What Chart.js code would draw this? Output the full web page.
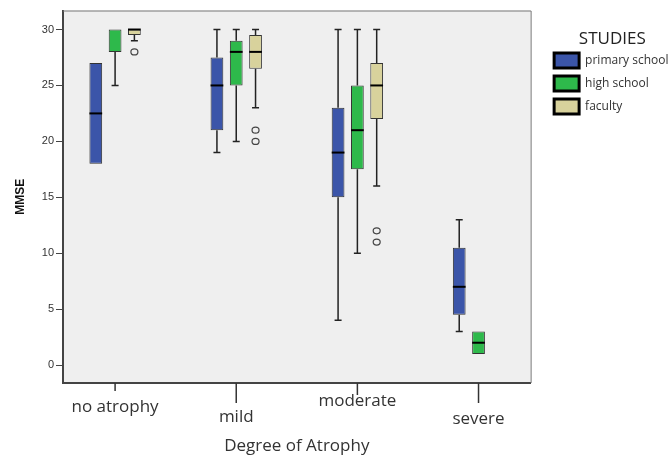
<!DOCTYPE html>
<html>
<head>
<meta charset="utf-8">
<script src="https://cdn.jsdelivr.net/npm/chart.js@4.4.0/dist/chart.umd.min.js"></script>
<style>
html, body { margin: 0; padding: 0; background: #fff; }
#wrap { width: 672px; height: 456px; }
</style>
</head>
<body>
<div id="wrap"><canvas id="box-plot"></canvas></div>
<script>
var categories = ['no atrophy', 'mild', 'moderate', 'severe'];
var studies = ['primary school', 'high school', 'faculty'];
var colors = ['#3b55a9', '#2eb94b', '#d8d29c'];

// one row per study, one column per category
var lowWhisker = [[18, 19, 4, 3], [25, 20, 10, 1], [29, 23, 16, null]];
var q1 = [[18, 21, 15, 4.5], [28, 25, 17.5, 1], [29.5, 26.5, 22, null]];
var median = [[22.5, 25, 19, 7], [30, 28, 21, 2], [30, 28, 25, null]];
var q3 = [[27, 27.5, 23, 10.5], [30, 29, 25, 3], [30, 29.5, 27, null]];
var highWhisker = [[27, 30, 30, 13], [30, 30, 30, 3], [30, 30, 30, null]];
var outliers = [[[], [], [], []], [[], [], [], []], [[28], [20, 21], [11, 12], []]];

// x label placement (the axis labels are staggered in the original)
var labelDrop = [24, 34, 18, 36];
var tickDrop = [8, 20, 12, 20];
var legendShift = 15.5;

var boxExtras = {
    id: 'boxExtras',
    afterLayout: function (chart) {
        // leave a gap between the plot frame and the legend
        var lg = chart.legend;
        if (lg) {
            lg.left += legendShift;
            lg.right += legendShift;
            lg.adjustHitBoxes();
        }
    },
    beforeDraw: function (chart) {
        var a = chart.chartArea, ctx = chart.ctx;
        ctx.save();
        ctx.fillStyle = '#efefef';
        ctx.fillRect(a.left, a.top, a.right - a.left, a.bottom - a.top);
        ctx.restore();
    },
    beforeDatasetsDraw: function (chart) {
        var ctx = chart.ctx, y = chart.scales.y;
        ctx.save();
        ctx.strokeStyle = '#222';
        ctx.lineWidth = 1.5;
        chart.data.datasets.forEach(function (ds, k) {
            chart.getDatasetMeta(k).data.forEach(function (bar, i) {
                if (q1[k][i] == null) return;
                var segs = [[q3[k][i], highWhisker[k][i]], [q1[k][i], lowWhisker[k][i]]];
                segs.forEach(function (s) {
                    if (s[0] === s[1]) return;
                    var y0 = y.getPixelForValue(s[0]), y1 = y.getPixelForValue(s[1]);
                    ctx.beginPath();
                    ctx.moveTo(bar.x, y0);
                    ctx.lineTo(bar.x, y1);
                    ctx.moveTo(bar.x - 3.5, y1);
                    ctx.lineTo(bar.x + 3.5, y1);
                    ctx.stroke();
                });
            });
        });
        ctx.restore();
    },
    afterDatasetsDraw: function (chart) {
        var ctx = chart.ctx, y = chart.scales.y;
        ctx.save();
        chart.data.datasets.forEach(function (ds, k) {
            chart.getDatasetMeta(k).data.forEach(function (bar, i) {
                if (q1[k][i] == null) return;
                // a median sitting on the box edge is hidden by the edge in the original
                if (median[k][i] !== q3[k][i] || q1[k][i] === q3[k][i] - 0.5) {
                    var my = y.getPixelForValue(median[k][i]);
                    ctx.strokeStyle = '#000';
                    ctx.lineWidth = 2;
                    ctx.beginPath();
                    ctx.moveTo(bar.x - bar.width / 2, my);
                    ctx.lineTo(bar.x + bar.width / 2, my);
                    ctx.stroke();
                }
                ctx.strokeStyle = '#444';
                ctx.lineWidth = 1.2;
                outliers[k][i].forEach(function (v) {
                    ctx.beginPath();
                    ctx.ellipse(bar.x, y.getPixelForValue(v), 3.5, 3, 0, 0, Math.PI * 2);
                    ctx.stroke();
                });
            });
        });
        ctx.restore();
    },
    afterDraw: function (chart) {
        var a = chart.chartArea, ctx = chart.ctx, x = chart.scales.x;
        ctx.save();
        ctx.strokeStyle = '#777';
        ctx.lineWidth = 1;
        ctx.beginPath();
        ctx.moveTo(a.left, a.top + 0.5);
        ctx.lineTo(a.right + 0.5, a.top + 0.5);
        ctx.lineTo(a.right + 0.5, a.bottom);
        ctx.stroke();
        ctx.strokeStyle = '#333';
        ctx.lineWidth = 1.5;
        ctx.fillStyle = '#333';
        ctx.font = '17px "Open Sans"';
        ctx.textAlign = 'center';
        ctx.textBaseline = 'middle';
        categories.forEach(function (c, i) {
            var px = x.getPixelForValue(i);
            ctx.beginPath();
            ctx.moveTo(px, a.bottom);
            ctx.lineTo(px, a.bottom + tickDrop[i]);
            ctx.stroke();
            ctx.fillText(c, px, a.bottom + labelDrop[i]);
        });
        ctx.restore();
    }
};

var ctx = document.getElementById('box-plot').getContext('2d');
var myChart = new Chart(ctx, {
    type: 'bar',
    data: {
        datasets: studies.map(function (s, k) {
            return {
                label: s,
                data: categories.map(function (c, i) {
                    return { x: i, y: q1[k][i] == null ? null : [q1[k][i], q3[k][i]] };
                }),
                backgroundColor: colors[k],
                borderColor: '#333',
                borderWidth: 1,
                borderSkipped: false,
                categoryPercentage: 0.478,
                barPercentage: 0.66
            };
        })
    },
    options: {
        responsive: true,
        maintainAspectRatio: false,
        animation: false,
        layout: {
            padding: { left: 8, right: 9, top: 10.5, bottom: 0 }
        },
        scales: {
            x: {
                type: 'linear',
                offset: false,
                min: -0.43,
                max: 3.43,
                ticks: { display: false, stepSize: 1, includeBounds: false },
                grid: { display: false, offset: false },
                border: { color: '#444', width: 2 },
                title: {
                    display: true,
                    text: 'Degree of Atrophy',
                    color: '#333',
                    font: { family: 'Open Sans', size: 17 },
                    padding: 0
                },
                afterFit: function (s) { s.height = 73; }
            },
            y: {
                min: -1.6,
                max: 31.7,
                ticks: {
                    stepSize: 5,
                    includeBounds: false,
                    color: '#333',
                    padding: 2,
                    font: { family: 'Liberation Sans', size: 11 }
                },
                grid: { drawOnChartArea: false, tickLength: 7, color: '#444' },
                border: { color: '#444', width: 2 },
                title: {
                    display: true,
                    text: 'MMSE',
                    color: '#111',
                    font: { family: 'Liberation Sans', size: 12, weight: 'bold' },
                    padding: { top: 5, bottom: 0 }
                },
                afterFit: function (s) { s.width = 55; }
            }
        },
        plugins: {
            legend: {
                position: 'right',
                align: 'start',
                title: {
                    display: true,
                    text: 'STUDIES',
                    color: '#222',
                    font: { family: 'Open Sans', size: 17 },
                    padding: { top: 20, bottom: -6 }
                },
                labels: {
                    boxWidth: 25,
                    boxHeight: 15,
                    padding: 8,
                    color: '#333',
                    font: { family: 'Open Sans', size: 12 },
                    generateLabels: function (chart) {
                        return chart.data.datasets.map(function (ds, i) {
                            return {
                                text: ds.label,
                                fillStyle: ds.backgroundColor,
                                strokeStyle: '#000',
                                lineWidth: 3,
                                fontColor: '#333',
                                hidden: false,
                                datasetIndex: i
                            };
                        });
                    }
                }
            },
            tooltip: { enabled: false }
        }
    },
    plugins: [boxExtras]
});
</script>
</body>
</html>
